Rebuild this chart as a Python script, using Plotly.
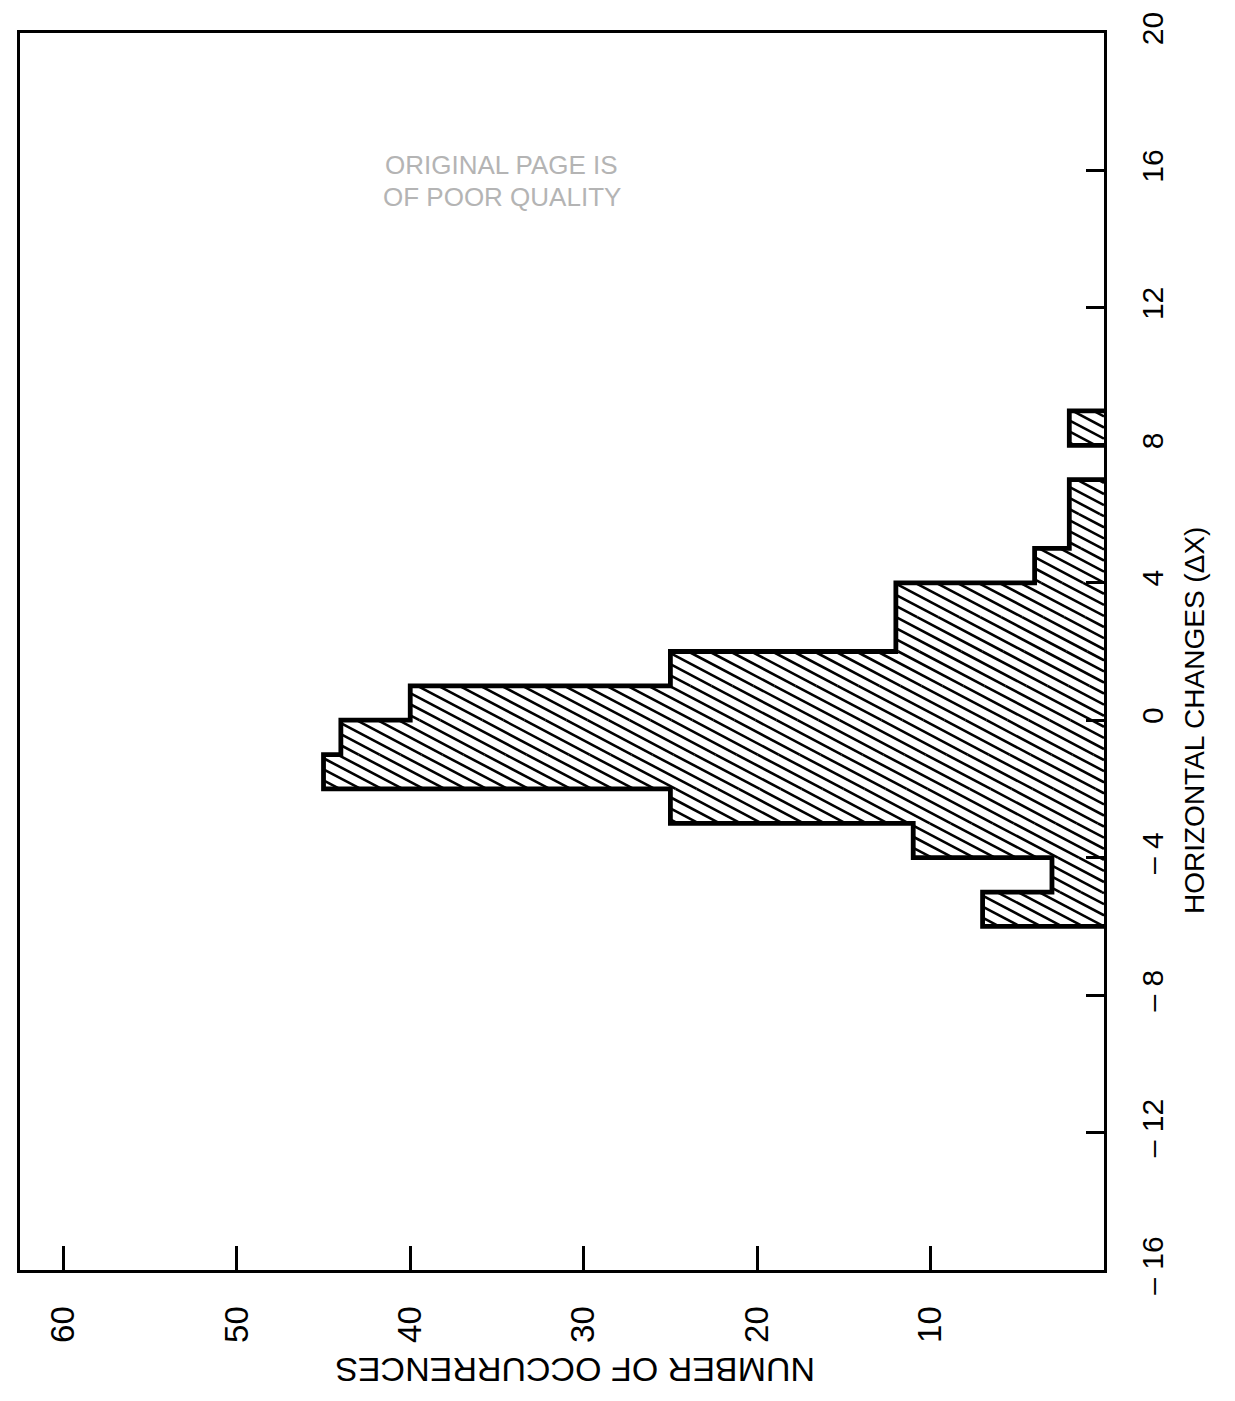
import math
import plotly.graph_objects as go

# Histogram of horizontal changes (unit-width bins, given by their left edge)
bin_left = [-6, -5, -4, -3, -2, -1, 0, 1, 2, 3, 4, 5, 6, 7, 8]
counts = [7, 3, 11, 25, 45, 44, 40, 25, 12, 12, 4, 2, 2, 0, 2]
bin_width = 1

# Axis ticks
dx_ticks = [-16, -12, -8, -4, 0, 4, 8, 12, 16, 20]
dx_tick_text = ["– 16", "– 12", "– 8", "– 4", "0", "4", "8", "12", "16", "20"]
count_ticks = [10, 20, 30, 40, 50, 60]

dx_range = [-16, 20]
count_range = [62.5, 0]  # occurrences grow to the left

# Page geometry
W, H = 1235, 1401
M = dict(l=20, r=131, t=24, b=131)
plot_w = W - M["l"] - M["r"]
plot_h = H - M["t"] - M["b"]
sx = plot_w / (count_range[0] - count_range[1])   # px per occurrence
sy = plot_h / (dx_range[1] - dx_range[0])          # px per unit of dX

# ---- step outline of the histogram ----
out_x, out_y = [], []
run_open = False
for i, (lo, n) in enumerate(zip(bin_left, counts)):
    hi = lo + bin_width
    if n > 0:
        if not run_open:
            out_x.append(0); out_y.append(lo)
            run_open = True
        out_x += [n, n]; out_y += [lo, hi]
    if run_open and (n == 0 or i == len(counts) - 1):
        end = lo if n == 0 else hi
        out_x += [0, None]; out_y += [end, None]
        run_open = False

# ---- diagonal hatching, clipped to each bar (computed in pixel space) ----
slope = math.tan(math.radians(28))   # rise per px moving left
gap = 21.0                           # horizontal spacing between hatch lines, px
dc = gap * slope
hx, hy = [], []
for lo, n in zip(bin_left, counts):
    if n <= 0:
        continue
    U = n * sx
    W0 = (lo - dx_range[0]) * sy
    W1 = W0 + bin_width * sy
    k0 = math.floor((W0 - U * slope) / dc) - 1
    k1 = math.ceil(W1 / dc) + 1
    for k in range(k0, k1 + 1):
        c = k * dc
        u_a = max(0.0, (W0 - c) / slope)
        u_b = min(U, (W1 - c) / slope)
        if u_b - u_a > 0.5:
            for u in (u_a, u_b):
                hx.append(u / sx)
                hy.append((c + slope * u) / sy + dx_range[0])
            hx.append(None); hy.append(None)

fig = go.Figure()
fig.add_trace(go.Scatter(x=hx, y=hy, mode="lines",
                         line=dict(color="black", width=2.6),
                         hoverinfo="skip", showlegend=False))
fig.add_trace(go.Scatter(x=out_x, y=out_y, mode="lines",
                         line=dict(color="black", width=4.8),
                         hoverinfo="skip", showlegend=False))

tick_font = dict(family="Liberation Sans, Arial, sans-serif", size=33, color="black")

fig.update_layout(
    width=W, height=H,
    margin=dict(l=M["l"], r=M["r"], t=M["t"], b=M["b"], pad=0),
    paper_bgcolor="white", plot_bgcolor="white",
    showlegend=False,
    xaxis=dict(
        range=count_range, tickvals=count_ticks,
        ticks="inside", ticklen=24, tickwidth=2.5, tickcolor="black",
        tickangle=-90, tickfont=tick_font, ticklabelstandoff=20,
        showline=True, linewidth=3, linecolor="black", mirror=True,
        showgrid=False, zeroline=False, fixedrange=True,
    ),
    yaxis=dict(
        range=dx_range, tickvals=dx_ticks, ticktext=dx_tick_text,
        side="right",
        ticks="inside", ticklen=18, tickwidth=2.5, tickcolor="black",
        tickangle=-90, tickfont=dict(tick_font, size=30), ticklabelstandoff=20,
        showline=True, linewidth=3, linecolor="black", mirror=True,
        showgrid=False, zeroline=False, fixedrange=True,
    ),
)

def px_to_paper(px, py):
    return (px - M["l"]) / plot_w, (H - M["b"] - py) / plot_h

ax, ay = px_to_paper(1195, 717)
fig.add_annotation(text="HORIZONTAL CHANGES (ΔX)", x=ax, y=ay, xref="paper", yref="paper",
                   showarrow=False, textangle=-90, xanchor="center", yanchor="middle",
                   font=dict(family="Liberation Sans Narrow, Arial Narrow, Liberation Sans, sans-serif",
                             size=28, color="black"))
bx, by = px_to_paper(575, 1370)
fig.add_annotation(text="NUMBER OF OCCURRENCES", x=bx, y=by, xref="paper", yref="paper",
                   showarrow=False, textangle=180, xanchor="center", yanchor="middle",
                   font=dict(family="Liberation Sans, Arial, sans-serif", size=34, color="black"))

# faded stamp
for line, py in (("ORIGINAL PAGE IS", 157), ("OF POOR QUALITY", 189)):
    sxp, syp = px_to_paper(502, py)
    fig.add_annotation(text=line, x=sxp, y=syp, xref="paper", yref="paper",
                       showarrow=False, xanchor="center", yanchor="middle",
                       font=dict(family="Liberation Sans, Arial, sans-serif", size=26, color="#b4b4b4"))

fig.write_html("out.html")
